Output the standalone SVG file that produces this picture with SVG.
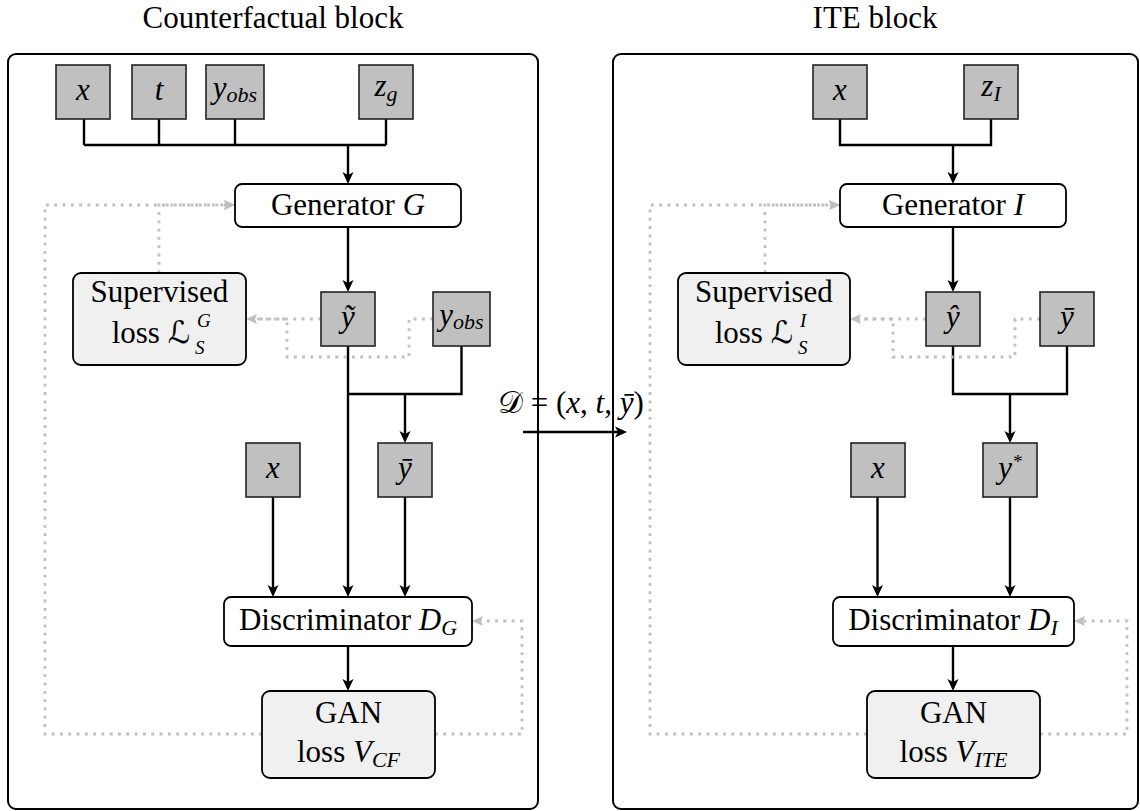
<svg xmlns="http://www.w3.org/2000/svg" width="1140" height="811" viewBox="0 0 1140 811">
<defs>
<style>
text{font-family:'Liberation Serif','DejaVu Serif','DejaVu Sans',serif;font-size:31px;fill:#000}
.c{text-anchor:middle}
.e{text-anchor:end}
.i{font-style:italic}
.sub{font-size:22px;font-style:italic}
.ss{font-size:19px;font-style:italic}
.block{fill:none;stroke:#000;stroke-width:2}
.var{fill:#c0c0c0;stroke:#222;stroke-width:1.6}
.proc{fill:#fff;stroke:#000;stroke-width:1.8}
.loss{fill:#f0f0f0;stroke:#000;stroke-width:1.8}
.wire{fill:none;stroke:#000;stroke-width:2.4}
.arr{marker-end:url(#ah)}
.fb{fill:none;stroke:#bfbfbf;stroke-width:2.8;stroke-dasharray:2.8 5.5}
.fba{marker-end:url(#gh)}
</style>
<marker id="ah" viewBox="-13 -6 14 12" refX="-8" refY="0" markerWidth="14" markerHeight="12" markerUnits="userSpaceOnUse" orient="auto"><path d="M0,0 L-12,-5.5 L-9,0 L-12,5.5 z" fill="#000"/></marker>
<marker id="gh" viewBox="-12 -6 13 12" refX="-6" refY="0" markerWidth="13" markerHeight="12" markerUnits="userSpaceOnUse" orient="auto"><path d="M0,0 L-11,-5 L-9,0 L-11,5 z" fill="#bfbfbf"/></marker>
</defs>

<g id="titles">
<text class="c" x="273" y="28">Counterfactual block</text>
<text class="c" x="875" y="28">ITE block</text>
</g>

<g id="cf-block"><rect class="block" x="8" y="54" width="530" height="755" rx="8"/></g>
<g id="ite-block"><rect class="block" x="613" y="54" width="525" height="755" rx="8"/></g>

<g id="connectors">
<!-- counterfactual block -->
<path class="wire" d="M84,119 V145 M159,119 V145 M235,119 V145 M386,119 V145 M84,145 H386"/>
<path class="wire arr" d="M348,145 V176"/>
<path class="wire arr" d="M348,227 V284"/>
<path class="wire arr" d="M348,346 V589"/>
<path class="wire" d="M461.5,346 V394 H348"/>
<path class="wire arr" d="M405,394 V435"/>
<path class="wire arr" d="M273,497 V589"/>
<path class="wire arr" d="M405,497 V589"/>
<path class="wire arr" d="M348,646 V683"/>
<path class="fb fba" d="M321,319 H252"/>
<path class="fb" d="M433,319 H409 V357 H287 V319 H252"/>
<path class="fb fba" d="M159,273 V205 H229"/>
<path class="fb fba" d="M262,734 H45 V205 H229"/>
<path class="fb fba" d="M435,734 H522 V621 H478"/>
<!-- ITE block -->
<path class="wire" d="M840,119 V145 H991 V119"/>
<path class="wire arr" d="M953,145 V176"/>
<path class="wire arr" d="M953,227 V284"/>
<path class="wire" d="M953,346 V394 H1067 V346"/>
<path class="wire arr" d="M1010,394 V435"/>
<path class="wire arr" d="M877.5,497 V589"/>
<path class="wire arr" d="M1010,497 V589"/>
<path class="wire arr" d="M953,646 V683"/>
<path class="fb fba" d="M926,319 H856"/>
<path class="fb" d="M1040,319 H1015 V357 H893 V319 H856"/>
<path class="fb fba" d="M765,273 V205 H834"/>
<path class="fb fba" d="M867,734 H650 V205 H834"/>
<path class="fb fba" d="M1040,734 H1127 V621 H1080"/>
<!-- between blocks -->
<path class="wire arr" d="M523,432 H619"/>
<text x="498" y="413">𝒟 = (<tspan class="i">x</tspan>, <tspan class="i">t</tspan>, <tspan class="i">ȳ</tspan>)</text>
</g>

<!-- counterfactual nodes -->
<g id="cf-x"><rect class="var" x="56" y="65" width="54" height="54"/><text class="c i" x="83" y="100">x</text></g>
<g id="cf-t"><rect class="var" x="132" y="65" width="54" height="54"/><text class="c i" x="159" y="100">t</text></g>
<g id="cf-yobs"><rect class="var" x="206" y="65" width="58" height="54"/><text class="c i" x="235" y="98">y<tspan class="sub" dy="4">obs</tspan></text></g>
<g id="cf-zg"><rect class="var" x="359" y="65" width="54" height="54"/><text class="c i" x="386" y="96">z<tspan class="sub" dy="5">g</tspan></text></g>
<g id="cf-gen"><rect class="proc" x="235" y="184" width="226" height="43" rx="7"/><text class="c" x="348" y="215">Generator <tspan class="i">G</tspan></text></g>
<g id="cf-sup"><rect class="loss" x="73" y="273" width="173" height="92" rx="8"/><text class="c" x="159.5" y="302">Supervised</text><text class="e" x="190" y="343">loss ℒ</text><text class="ss" x="197" y="327">G</text><text class="ss" x="195" y="354">S</text></g>
<g id="cf-ytilde"><rect class="var" x="321" y="292" width="54" height="54"/><text class="c i" x="348" y="327">ỹ</text></g>
<g id="cf-yobs2"><rect class="var" x="433" y="292" width="57" height="54"/><text class="c i" x="461.5" y="325">y<tspan class="sub" dy="4">obs</tspan></text></g>
<g id="cf-x2"><rect class="var" x="246" y="443" width="54" height="54"/><text class="c i" x="273" y="478">x</text></g>
<g id="cf-ybar"><rect class="var" x="378" y="443" width="54" height="54"/><text class="c i" x="405" y="478">ȳ</text></g>
<g id="cf-disc"><rect class="proc" x="224" y="597" width="248" height="49" rx="7"/><text class="c" x="348" y="630">Discriminator <tspan class="i">D</tspan><tspan class="sub" dy="5">G</tspan></text></g>
<g id="cf-gan"><rect class="loss" x="262" y="691" width="173" height="87" rx="8"/><text class="c" x="348.5" y="723">GAN</text><text class="c" x="348.5" y="762">loss <tspan class="i">V</tspan><tspan class="sub" dy="5">CF</tspan></text></g>

<!-- ITE nodes -->
<g id="ite-x"><rect class="var" x="813" y="65" width="54" height="54"/><text class="c i" x="840" y="100">x</text></g>
<g id="ite-zi"><rect class="var" x="964" y="65" width="54" height="54"/><text class="c i" x="991" y="96">z<tspan class="sub" dy="5">I</tspan></text></g>
<g id="ite-gen"><rect class="proc" x="840" y="184" width="226" height="43" rx="7"/><text class="c" x="953" y="215">Generator <tspan class="i">I</tspan></text></g>
<g id="ite-sup"><rect class="loss" x="678" y="273" width="172" height="92" rx="8"/><text class="c" x="764" y="302">Supervised</text><text class="e" x="793" y="343">loss ℒ</text><text class="ss" x="800" y="327">I</text><text class="ss" x="798" y="354">S</text></g>
<g id="ite-yhat"><rect class="var" x="926" y="292" width="54" height="54"/><text class="c i" x="953" y="327">ŷ</text></g>
<g id="ite-ybar"><rect class="var" x="1040" y="292" width="54" height="54"/><text class="c i" x="1067" y="327">ȳ</text></g>
<g id="ite-x2"><rect class="var" x="851" y="443" width="54" height="54"/><text class="c i" x="878" y="478">x</text></g>
<g id="ite-ystar"><rect class="var" x="983" y="443" width="54" height="54"/><text class="c i" x="1010" y="478">y<tspan class="ss" font-size="18" dy="-10">*</tspan></text></g>
<g id="ite-disc"><rect class="proc" x="833" y="597" width="241" height="49" rx="7"/><text class="c" x="953" y="630">Discriminator <tspan class="i">D</tspan><tspan class="sub" dy="5">I</tspan></text></g>
<g id="ite-gan"><rect class="loss" x="867" y="691" width="173" height="87" rx="8"/><text class="c" x="953.5" y="723">GAN</text><text class="c" x="953.5" y="762">loss <tspan class="i">V</tspan><tspan class="sub" dy="5">ITE</tspan></text></g>
</svg>
